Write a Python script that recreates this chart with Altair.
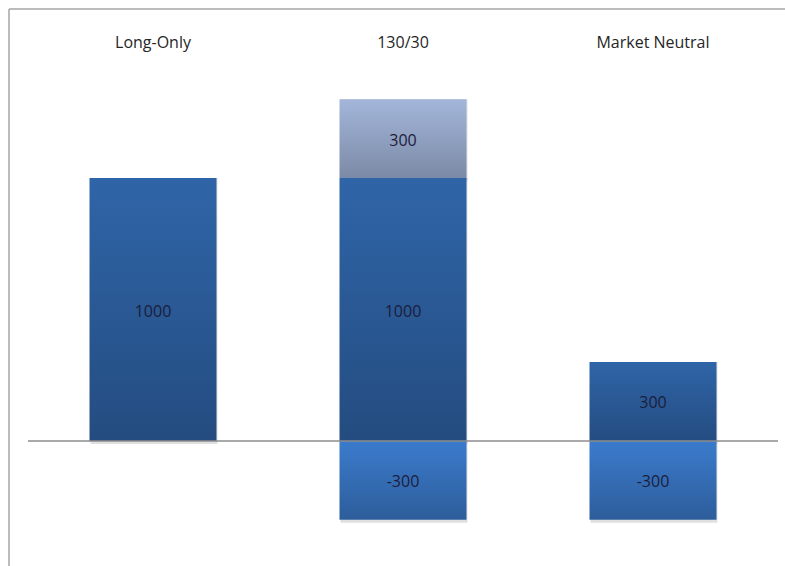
import altair as alt
import pandas as pd

categories = ["Long-Only", "130/30", "Market Neutral"]
long_vals = [1000, 1000, 300]
extra_long = [0, 300, 0]
short_vals = [0, -300, -300]

rows = []
for c, l, e, s in zip(categories, long_vals, extra_long, short_vals):
    if l:
        rows.append({"cat": c, "seg": "long", "v0": 0, "v1": l, "label": str(l)})
    if e:
        rows.append({"cat": c, "seg": "extra", "v0": l, "v1": l + e, "label": str(e)})
    if s:
        rows.append({"cat": c, "seg": "short", "v0": s, "v1": 0, "label": str(s)})
df = pd.DataFrame(rows)
df["mid"] = (df["v0"] + df["v1"]) / 2

cat_df = pd.DataFrame({"cat": categories})

W, H = 750, 473
xs = alt.X("cat:N", sort=categories, axis=None,
           scale=alt.Scale(paddingInner=0.492, paddingOuter=0.246))
ys = alt.Scale(domain=[-400, 1400], nice=False, zero=False)

def grad(top, bottom):
    return alt.Gradient(gradient="linear", x1=0, y1=0, x2=0, y2=1,
                        stops=[alt.GradientStop(color=top, offset=0),
                               alt.GradientStop(color=bottom, offset=1)])

base = alt.Chart(df)

shadow = base.mark_bar(color="#000000", opacity=0.12, yOffset=3, xOffset=1).encode(
    x=xs, y=alt.Y("v0:Q", scale=ys, axis=None), y2="v1:Q")

bars_long = base.transform_filter(alt.datum.seg == "long").mark_bar(
    color=grad("#2f65a8", "#244c80")).encode(
    x=xs, y=alt.Y("v0:Q", scale=ys, axis=None), y2="v1:Q")
bars_extra = base.transform_filter(alt.datum.seg == "extra").mark_bar(
    color=grad("#a3b6da", "#7b8aa6")).encode(
    x=xs, y=alt.Y("v0:Q", scale=ys, axis=None), y2="v1:Q")
bars_short = base.transform_filter(alt.datum.seg == "short").mark_bar(
    color=grad("#3b7bcc", "#2d5d9b")).encode(
    x=xs, y=alt.Y("v0:Q", scale=ys, axis=None), y2="v1:Q")

labels = base.mark_text(font="Open Sans", fontSize=16, color="#1c1c3c",
                        baseline="middle", align="center", dy=2).encode(
    x=xs, y=alt.Y("mid:Q", scale=ys, axis=None), text="label:N")

cat_labels = alt.Chart(cat_df).mark_text(font="Open Sans", fontSize=16, color="#262626",
                                          baseline="middle", align="center").encode(
    x=xs, y=alt.value(-30), text="cat:N")

zero = alt.Chart(pd.DataFrame({"z": [0]})).mark_rule(color="#8c8c8c", strokeWidth=1.5).encode(
    y=alt.Y("z:Q", scale=ys, axis=None), x=alt.value(0), x2=alt.value(W))

frame_top = alt.Chart(cat_df.head(1)).mark_rule(color="#a6a6a6", strokeWidth=1.5).encode(
    x=alt.value(-19), x2=alt.value(W + 10), y=alt.value(-64))
frame_left = alt.Chart(cat_df.head(1)).mark_rule(color="#a6a6a6", strokeWidth=1.5).encode(
    x=alt.value(-19), y=alt.value(-64), y2=alt.value(H + 20))

chart = alt.layer(frame_top, frame_left, shadow, bars_long, bars_extra, bars_short,
                  zero, labels, cat_labels).properties(
    width=W, height=H,
    padding={"left": 28, "top": 73, "right": 7, "bottom": 20},
    autosize=alt.AutoSizeParams(type="none"),
    background="white",
).configure_view(stroke=None)

chart.save("out.html", embed_options={"renderer": "svg", "actions": False})
